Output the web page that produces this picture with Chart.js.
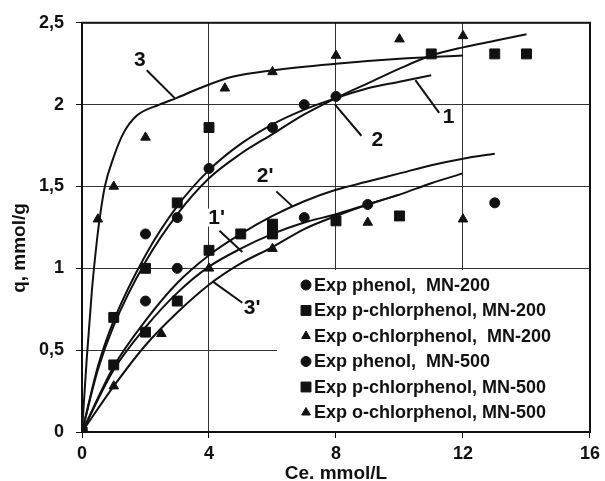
<!DOCTYPE html>
<html>
<head>
<meta charset="utf-8">
<script src="https://cdn.jsdelivr.net/npm/chart.js@4.4.1/dist/chart.umd.min.js"></script>
<style>
  html, body { margin: 0; padding: 0; background: #fff; }
  canvas { display: block; }
</style>
</head>
<body>
<canvas id="chart" width="605" height="481"></canvas>
<script>
// tick labels
const xTickLabels = ['0', '4', '8', '12', '16'];
const yTickLabels = ['0', '0,5', '1', '1,5', '2', '2,5'];

// experimental points, MN-200
const phenol200X = [0, 2, 3, 4, 6, 7, 8];
const phenol200Y = [0, 1.21, 1.31, 1.61, 1.86, 2.0, 2.05];
const pChlor200X = [0, 1, 2, 3, 4, 11, 13, 14];
const pChlor200Y = [0, 0.70, 1.0, 1.40, 1.86, 2.31, 2.31, 2.31];
const oChlor200X = [0, 0.5, 1, 2, 4.5, 6, 8, 10, 12];
const oChlor200Y = [0, 1.30, 1.50, 1.80, 2.10, 2.20, 2.30, 2.40, 2.42];

// experimental points, MN-500
const phenol500X = [0, 2, 3, 7, 9, 13];
const phenol500Y = [0, 0.80, 1.0, 1.31, 1.39, 1.40];
const pChlor500X = [0, 1, 2, 3, 4, 5, 6, 6, 8, 10];
const pChlor500Y = [0, 0.41, 0.61, 0.80, 1.11, 1.21, 1.21, 1.27, 1.29, 1.32];
const oChlor500X = [0, 1, 2.5, 4, 6, 9, 12];
const oChlor500Y = [0, 0.28, 0.60, 1.0, 1.12, 1.28, 1.30];

// fitted curves 1, 2, 3 (MN-200) and 1', 2', 3' (MN-500)
const curve1X = [0, 0.5, 1, 2, 3, 4, 5, 6, 7, 8, 9, 10, 11];
const curve1Y = [0, 0.40, 0.68, 1.08, 1.38, 1.60, 1.76, 1.88, 1.97, 2.04, 2.10, 2.14, 2.18];
const curve2X = [0, 0.5, 1, 2, 3, 4, 5, 6, 7, 8, 9, 10, 11, 12, 13, 14];
const curve2Y = [0, 0.38, 0.65, 1.04, 1.33, 1.55, 1.70, 1.82, 1.94, 2.04, 2.13, 2.22, 2.30, 2.35, 2.39, 2.43];
const curve3X = [0, 0.15, 0.31, 0.47, 0.56, 0.72, 0.98, 1.29, 1.71, 2.44, 2.97, 3.7, 4.73, 6, 8, 10, 12];
const curve3Y = [0, 0.45, 0.86, 1.17, 1.31, 1.50, 1.67, 1.82, 1.93, 2.00, 2.04, 2.10, 2.17, 2.21, 2.25, 2.28, 2.30];
const curve1pX = [0, 1, 2, 3, 4, 5, 6, 7, 8, 9, 10, 11, 12];
const curve1pY = [0, 0.38, 0.64, 0.85, 1.01, 1.12, 1.21, 1.28, 1.33, 1.39, 1.45, 1.52, 1.58];
const curve2pX = [0, 1, 2, 3, 4, 5, 6, 7, 8, 9, 10, 11, 12, 13];
const curve2pY = [0, 0.40, 0.68, 0.91, 1.08, 1.21, 1.32, 1.41, 1.48, 1.53, 1.58, 1.63, 1.67, 1.70];
const curve3pX = [0, 1, 2, 3, 4, 5, 6, 7, 8, 9, 10];
const curve3pY = [0, 0.28, 0.53, 0.73, 0.90, 1.03, 1.13, 1.24, 1.32, 1.39, 1.45];

const legendLabels = [
  'Exp phenol,  MN-200',
  'Exp p-chlorphenol, MN-200',
  'Exp o-chlorphenol,  MN-200',
  'Exp phenol,  MN-500',
  'Exp p-chlorphenol, MN-500',
  'Exp o-chlorphenol, MN-500'
];
const curveLabels = ['1', '2', '3', "1'", "2'", "3'"];
const xTitle = 'Ce. mmol/L';
const yTitle = 'q, mmol/g';

const INK = '#111';
const FONT = 'Liberation Sans, Arial, sans-serif';

// where the curve numbers sit, in data units (text centre, pointer start, pointer end)
const labelSpots = [
  { at: [11.55, 1.93], from: [11.25, 1.95], to: [10.5, 2.15] },
  { at: [9.3, 1.79], from: [8.8, 1.81], to: [7.97, 2.0] },
  { at: [1.82, 2.28], from: [2.04, 2.21], to: [2.92, 2.04] },
  { at: [4.24, 1.31], from: [4.33, 1.23], to: [5.05, 1.1] },
  { at: [5.77, 1.57], from: [6.12, 1.47], to: [6.62, 1.38] },
  { at: [5.36, 0.76], from: [5.05, 0.79], to: [4.11, 0.92] }
];

function pts(xs, ys) {
  return xs.map((x, i) => ({ x: x, y: ys[i] }));
}

function markerSet(label, xs, ys, style, radius) {
  return {
    label: label,
    data: pts(xs, ys),
    showLine: false,
    pointStyle: style,
    pointRadius: radius,
    pointBackgroundColor: INK,
    pointBorderColor: INK,
    pointBorderWidth: 1,
    isMarker: true
  };
}

function curveSet(label, xs, ys) {
  return {
    label: label,
    data: pts(xs, ys),
    showLine: true,
    pointRadius: 0,
    borderColor: INK,
    borderWidth: 2,
    cubicInterpolationMode: 'monotone',
    fill: false
  };
}

const datasets = [
  markerSet(legendLabels[0], phenol200X, phenol200Y, 'circle', 5),
  markerSet(legendLabels[1], pChlor200X, pChlor200Y, 'rect', 7),
  markerSet(legendLabels[2], oChlor200X, oChlor200Y, 'triangle', 5.5),
  markerSet(legendLabels[3], phenol500X, phenol500Y, 'circle', 5),
  markerSet(legendLabels[4], pChlor500X, pChlor500Y, 'rect', 7),
  markerSet(legendLabels[5], oChlor500X, oChlor500Y, 'triangle', 5.5),
  curveSet(curveLabels[0], curve1X, curve1Y),
  curveSet(curveLabels[1], curve2X, curve2Y),
  curveSet(curveLabels[2], curve3X, curve3Y),
  curveSet(curveLabels[3], curve1pX, curve1pY),
  curveSet(curveLabels[4], curve2pX, curve2pY),
  curveSet(curveLabels[5], curve3pX, curve3pY)
];

// white legend panel in the lower right corner, drawn over the grid
const legendPanel = {
  id: 'legendPanel',
  beforeDatasetsDraw(chart) {
    const { ctx, chartArea } = chart;
    const left = 277, top = 270;
    ctx.save();
    ctx.fillStyle = '#fff';
    ctx.fillRect(left, top, chartArea.right - left, chartArea.bottom - top);
    ctx.font = 'bold 18px ' + FONT;
    ctx.textBaseline = 'middle';
    const markers = chart.data.datasets.filter(d => d.isMarker);
    markers.forEach((d, i) => {
      const y = 285 + i * 25.5;
      ctx.fillStyle = INK;
      ctx.strokeStyle = INK;
      Chart.helpers.drawPoint(ctx, {
        pointStyle: d.pointStyle,
        radius: d.pointStyle === 'rect' ? 7 : 5,
        rotation: 0,
        borderWidth: 1
      }, 306, y);
      ctx.fillText(d.label, 314, y + 1);
    });
    ctx.restore();
  }
};

// curve numbers, pointer strokes, axis titles and the plot frame
const curveNotes = {
  id: 'curveNotes',
  afterDatasetsDraw(chart) {
    const { ctx, chartArea, scales } = chart;
    const px = v => scales.x.getPixelForValue(v);
    const py = v => scales.y.getPixelForValue(v);
    ctx.save();
    ctx.font = 'bold 21px ' + FONT;
    ctx.textAlign = 'center';
    ctx.textBaseline = 'middle';
    labelSpots.forEach((s, i) => {
      const x = px(s.at[0]), y = py(s.at[1]);
      const w = ctx.measureText(curveLabels[i]).width;
      ctx.fillStyle = '#fff';
      ctx.fillRect(x - w / 2 - 2, y - 9, w + 4, 18);
      ctx.fillStyle = INK;
      ctx.fillText(curveLabels[i], x, y + 1);
      ctx.beginPath();
      ctx.moveTo(px(s.from[0]), py(s.from[1]));
      ctx.lineTo(px(s.to[0]), py(s.to[1]));
      ctx.lineWidth = 2;
      ctx.strokeStyle = INK;
      ctx.stroke();
    });

    // axis titles
    ctx.font = 'bold 19px ' + FONT;
    ctx.fillStyle = INK;
    ctx.fillText(xTitle, (chartArea.left + chartArea.right) / 2, 474);
    ctx.save();
    ctx.translate(20, 248);
    ctx.rotate(-Math.PI / 2);
    ctx.fillText(yTitle, 0, 0);
    ctx.restore();

    ctx.lineWidth = 2;
    ctx.strokeStyle = INK;
    ctx.strokeRect(chartArea.left, chartArea.top, chartArea.right - chartArea.left, chartArea.bottom - chartArea.top);
    ctx.restore();
  }
};

const tickFont = { family: FONT, size: 18, weight: 'bold' };

new Chart(document.getElementById('chart'), {
  type: 'scatter',
  data: { datasets: datasets },
  options: {
    responsive: false,
    animation: false,
    devicePixelRatio: 1,
    layout: { padding: { top: 21, right: 13, left: 0, bottom: 0 } },
    plugins: {
      legend: { display: false },
      tooltip: { enabled: false }
    },
    scales: {
      x: {
        type: 'linear',
        min: 0,
        max: 16,
        ticks: {
          stepSize: 4,
          color: INK,
          font: tickFont,
          padding: 5,
          maxRotation: 0,
          callback: (v, i) => xTickLabels[i]
        },
        grid: { color: '#333', lineWidth: 1, tickLength: 6, tickColor: INK },
        border: { display: false },
        afterFit: s => { s.height = 49; }
      },
      y: {
        type: 'linear',
        min: 0,
        max: 2.5,
        ticks: {
          stepSize: 0.5,
          color: INK,
          font: tickFont,
          padding: 12,
          callback: (v, i) => yTickLabels[i]
        },
        grid: { color: '#333', lineWidth: 1, tickLength: 6, tickColor: INK },
        border: { display: false },
        afterFit: s => { s.width = 82; }
      }
    }
  },
  plugins: [legendPanel, curveNotes]
});
</script>
</body>
</html>
